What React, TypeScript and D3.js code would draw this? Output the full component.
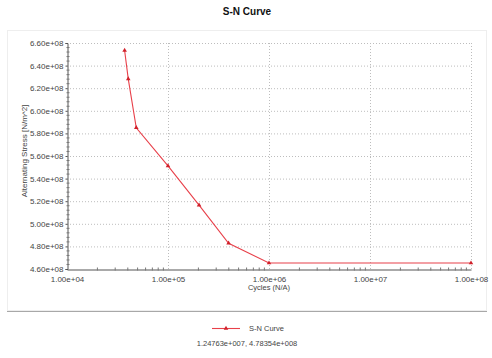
import React, { useEffect, useRef } from "react";
import * as d3 from "d3";

const width = 492;
const height = 358;
const margin = { top: 43, right: 21, bottom: 89, left: 67 };

// S-N curve points
const cycles = [3.72e4, 4.04e4, 4.85e4, 1.0e5, 2.03e5, 3.98e5, 1.0e6, 1.0e8];
const stress = [6.534e8, 6.283e8, 5.85e8, 5.512e8, 5.165e8, 4.828e8, 4.653e8, 4.653e8];

const xTicks = [1e4, 1e5, 1e6, 1e7, 1e8];
const xTickLabels = ["1.00e+04", "1.00e+05", "1.00e+06", "1.00e+07", "1.00e+08"];
const yTicks = [4.6e8, 4.8e8, 5.0e8, 5.2e8, 5.4e8, 5.6e8, 5.8e8, 6.0e8, 6.2e8, 6.4e8, 6.6e8];
const yTickLabels = ["4.60e+08", "4.80e+08", "5.00e+08", "5.20e+08", "5.40e+08", "5.60e+08",
  "5.80e+08", "6.00e+08", "6.20e+08", "6.40e+08", "6.60e+08"];

const seriesName = "S-N Curve";
const probeText = "1.24763e+007, 4.78354e+008";

const App = () => {
  const ref = useRef<SVGSVGElement>(null);

  useEffect(() => {
    const svg = d3.select(ref.current);
    svg.selectAll("*").remove();

    const x = d3.scaleLog().domain([1e4, 1e8]).range([margin.left, width - margin.right]);
    const y = d3.scaleLinear().domain([4.6e8, 6.6e8]).range([height - margin.bottom, margin.top]);
    const font = "Arial, 'Liberation Sans', sans-serif";

    svg.append("rect").attr("width", width).attr("height", height).attr("fill", "#fff");

    // outer panel
    svg.append("rect")
      .attr("x", 7.5).attr("y", 30.5).attr("width", 479).attr("height", 280)
      .attr("fill", "none").attr("stroke", "#eeeeee");
    svg.append("line")
      .attr("x1", 7).attr("x2", 487).attr("y1", 311.5).attr("y2", 311.5)
      .attr("stroke", "#a8a8a8");

    svg.append("text")
      .attr("x", 247).attr("y", 15)
      .attr("text-anchor", "middle")
      .attr("font-family", font).attr("font-weight", "bold").attr("font-size", 10)
      .attr("fill", "#111")
      .text("S-N Curve");

    // grid
    const grid = svg.append("g").attr("stroke", "#bdbdbd").attr("stroke-dasharray", "1,2").attr("fill", "none");
    xTicks.slice(1).forEach((t) => {
      grid.append("line").attr("x1", x(t) + 0.5).attr("x2", x(t) + 0.5)
        .attr("y1", y(6.6e8)).attr("y2", y(4.6e8));
    });
    yTicks.slice(1).forEach((t) => {
      grid.append("line").attr("x1", x(1e4)).attr("x2", x(1e8))
        .attr("y1", y(t) + 0.5).attr("y2", y(t) + 0.5);
    });

    // x axis
    const xAxis = d3.axisBottom(x)
      .tickValues(xTicks)
      .tickFormat((d, i) => xTickLabels[i])
      .tickSize(0).tickPadding(7);
    const gx = svg.append("g")
      .attr("transform", `translate(0,${y(4.6e8) + 0.5})`)
      .call(xAxis);
    gx.select(".domain").attr("stroke", "#555");
    gx.selectAll("text").attr("font-family", font).attr("font-size", 8).attr("fill", "#444");
    const minorX: number[] = [];
    for (let e = 4; e < 8; e++) for (let k = 2; k <= 9; k++) minorX.push(k * Math.pow(10, e));
    gx.selectAll(".minor").data(minorX).enter().append("line")
      .attr("x1", (d) => x(d)).attr("x2", (d) => x(d))
      .attr("y1", -2).attr("y2", 1).attr("stroke", "#777");

    // y axis
    const yAxis = d3.axisLeft(y)
      .tickValues(yTicks)
      .tickFormat((d, i) => yTickLabels[i])
      .tickSize(2).tickPadding(2);
    const gy = svg.append("g")
      .attr("transform", `translate(${x(1e4) + 0.5},0)`)
      .call(yAxis);
    gy.select(".domain").attr("stroke", "#555");
    gy.selectAll(".tick line").attr("stroke", "#555");
    gy.selectAll("text").attr("font-family", font).attr("font-size", 8).attr("fill", "#444");
    const minorY = d3.range(0, 51).map((i) => 4.6e8 + i * 0.04e8).filter((_, i) => i % 5 !== 0);
    gy.selectAll(".minor").data(minorY).enter().append("line")
      .attr("x1", -1).attr("x2", 2)
      .attr("y1", (d) => y(d)).attr("y2", (d) => y(d)).attr("stroke", "#777");

    svg.append("text")
      .attr("transform", `translate(27,${151}) rotate(-90)`)
      .attr("text-anchor", "middle")
      .attr("font-family", font).attr("font-size", 8).attr("fill", "#444")
      .text("Alternating Stress [N/m^2]");

    svg.append("text")
      .attr("x", 269).attr("y", 290)
      .attr("text-anchor", "middle")
      .attr("font-family", font).attr("font-size", 7.5).attr("fill", "#444")
      .text("Cycles (N/A)");

    // series
    const pts = cycles.map((c, i) => [c, stress[i]] as [number, number]);
    const line = d3.line<[number, number]>().x((d) => x(d[0])).y((d) => y(d[1]));
    svg.append("path").datum(pts)
      .attr("d", line).attr("fill", "none").attr("stroke", "#e8404a").attr("stroke-width", 1.1);
    const tri = d3.symbol().type(d3.symbolTriangle).size(9);
    svg.selectAll(".pt").data(pts).enter().append("path")
      .attr("d", tri)
      .attr("transform", (d) => `translate(${x(d[0])},${y(d[1])})`)
      .attr("fill", "#d0202a");

    // legend
    svg.append("line").attr("x1", 212).attr("x2", 240).attr("y1", 328.5).attr("y2", 328.5)
      .attr("stroke", "#e8404a").attr("stroke-width", 1.1);
    svg.append("path").attr("d", tri).attr("transform", "translate(226,328.5)").attr("fill", "#d0202a");
    svg.append("text")
      .attr("x", 249).attr("y", 331)
      .attr("font-family", font).attr("font-size", 7.5).attr("fill", "#444")
      .text(seriesName);
    svg.append("text")
      .attr("x", 247).attr("y", 346)
      .attr("text-anchor", "middle")
      .attr("font-family", font).attr("font-size", 7.5).attr("fill", "#444")
      .text(probeText);
  }, []);

  return (
    <svg
      ref={ref}
      width={width}
      height={height}
      style={{ position: "absolute", left: 0, top: 0, display: "block" }}
    />
  );
};

export default App;
